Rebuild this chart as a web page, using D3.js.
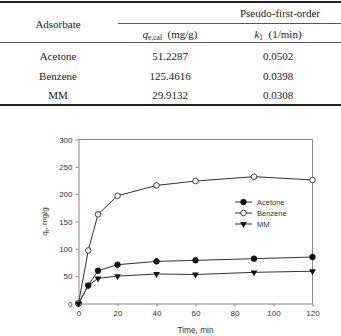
<!DOCTYPE html>
<html>
<head>
<meta charset="utf-8">
<script src="https://cdn.jsdelivr.net/npm/d3@7"></script>
<style>
body { margin: 0; background: #fff; }
svg { display: block; }
</style>
</head>
<body>
<div id="chart"></div>
<script>
// table data
const adsorbates = ["Acetone", "Benzene", "MM"];
const qeCal = ["51.2287", "125.4616", "29.9132"];
const k1 = ["0.0502", "0.0398", "0.0308"];

// kinetics data
const times = [0, 5, 10, 20, 40, 60, 90, 120];
const acetone = [0, 33, 60, 71, 77, 79, 82, 85];
const benzene = [0, 97, 163, 197, 216, 224, 232, 226];
const mm = [0, 33, 46, 50, 54, 53, 57, 59];
const xTicks = [0, 20, 40, 60, 80, 100, 120];
const yTicks = [0, 50, 100, 150, 200, 250, 300];

const w = 341, h = 336;

const svg = d3.select("#chart")
  .append("svg")
  .attr("width", w)
  .attr("height", h);

// ---- table ----
const serif = "'Liberation Serif', 'Times New Roman', serif";
const table = svg.append("g").attr("font-family", serif).attr("font-size", 11).attr("fill", "#222");

table.append("rect").attr("x", 0).attr("y", 1).attr("width", w).attr("height", 2).attr("fill", "#222");
table.append("rect").attr("x", 0).attr("y", 104).attr("width", w).attr("height", 2).attr("fill", "#222");
table.append("line").attr("x1", 118).attr("x2", w).attr("y1", 23.5).attr("y2", 23.5)
  .attr("stroke", "#555").attr("stroke-width", 1);
table.append("line").attr("x1", 0).attr("x2", w).attr("y1", 42.5).attr("y2", 42.5)
  .attr("stroke", "#555").attr("stroke-width", 1);

table.append("text").attr("x", 280).attr("y", 17).attr("text-anchor", "middle").text("Pseudo-first-order");
table.append("text").attr("x", 58).attr("y", 28).attr("text-anchor", "middle").text("Adsorbate");

const qh = table.append("text").attr("x", 170).attr("y", 37.5).attr("text-anchor", "middle");
qh.append("tspan").attr("font-style", "italic").text("q");
qh.append("tspan").attr("font-size", 7.5).attr("dy", 2).text("e,cal");
qh.append("tspan").attr("dy", -2).text("\u2002(mg/g)");

const kh = table.append("text").attr("x", 278).attr("y", 37.5).attr("text-anchor", "middle");
kh.append("tspan").attr("font-style", "italic").text("k");
kh.append("tspan").attr("font-size", 7.5).attr("dy", 2).text("1");
kh.append("tspan").attr("dy", -2).text("\u2002(1/min)");

const rowY = d3.scalePoint().domain(adsorbates).range([60, 99]);
adsorbates.forEach((a, i) => {
  table.append("text").attr("x", 58).attr("y", rowY(a)).attr("text-anchor", "middle").text(a);
  table.append("text").attr("x", 170).attr("y", rowY(a)).attr("text-anchor", "middle").text(qeCal[i]);
  table.append("text").attr("x", 278).attr("y", rowY(a)).attr("text-anchor", "middle").text(k1[i]);
});

// ---- chart ----
const padL = 78.5, padR = 312.5, padT = 139.5, padB = 303.5;
const axisColor = "#888";
const lineColor = "#333";
const sans = "'Liberation Sans', Arial, sans-serif";

const xScale = d3.scaleLinear().domain([0, 120]).range([padL, padR]);
const yScale = d3.scaleLinear().domain([0, 300]).range([padB, padT]);

const chart = svg.append("g").attr("font-family", sans);

const xAxis = chart.append("g")
  .attr("transform", "translate(0," + padB + ")")
  .call(d3.axisBottom(xScale).tickValues(xTicks).tickSize(3).tickSizeOuter(0).tickPadding(4));
const yAxis = chart.append("g")
  .attr("transform", "translate(" + padL + ",0)")
  .call(d3.axisLeft(yScale).tickValues(yTicks).tickSize(3).tickSizeOuter(0).tickPadding(3));

[xAxis, yAxis].forEach(a => {
  a.select(".domain").attr("stroke", axisColor);
  a.selectAll(".tick line").attr("stroke", axisColor);
  a.selectAll(".tick text").attr("fill", "#333").attr("font-size", 8).attr("font-family", sans);
});

// frame top and right
chart.append("line").attr("x1", padL).attr("x2", padR).attr("y1", padT).attr("y2", padT).attr("stroke", axisColor);
chart.append("line").attr("x1", padR).attr("x2", padR).attr("y1", padT).attr("y2", padB).attr("stroke", axisColor);

chart.append("text")
  .attr("x", (padL + padR) / 2).attr("y", 333)
  .attr("text-anchor", "middle").attr("font-size", 8.3).attr("fill", "#333")
  .text("Time, min");

const yl = chart.append("text")
  .attr("transform", "translate(47," + ((padT + padB) / 2) + ") rotate(-90)")
  .attr("text-anchor", "middle").attr("font-size", 8).attr("fill", "#333");
yl.append("tspan").text("q");
yl.append("tspan").attr("font-size", 6).attr("dy", 2).text("t");
yl.append("tspan").attr("dy", -2).text(", mg/g");

const series = [
  { name: "Acetone", values: acetone, marker: "filled" },
  { name: "Benzene", values: benzene, marker: "open" },
  { name: "MM", values: mm, marker: "triangle" }
];

const line = d3.line()
  .x((d, i) => xScale(times[i]))
  .y(d => yScale(d));

const triangle = d3.symbol().type(d3.symbolTriangle).size(20);

function drawMarker(g, type, x, y) {
  if (type === "triangle") {
    g.append("path").attr("d", triangle())
      .attr("transform", "translate(" + x + "," + y + ") rotate(180)")
      .attr("fill", "#111");
  } else {
    g.append("circle").attr("cx", x).attr("cy", y).attr("r", 2.8)
      .attr("fill", type === "filled" ? "#111" : "#fff")
      .attr("stroke", "#111").attr("stroke-width", 0.8);
  }
}

series.forEach(s => {
  chart.append("path")
    .datum(s.values)
    .attr("fill", "none")
    .attr("stroke", lineColor)
    .attr("stroke-width", 1)
    .attr("d", line);
});
series.forEach(s => {
  const g = chart.append("g");
  s.values.forEach((v, i) => drawMarker(g, s.marker, xScale(times[i]), yScale(v)));
});

// legend
const legY = d3.scalePoint().domain(series.map(s => s.name)).range([202, 224]);
series.forEach(s => {
  const g = chart.append("g");
  const y = legY(s.name);
  g.append("line").attr("x1", 235).attr("x2", 252).attr("y1", y).attr("y2", y)
    .attr("stroke", lineColor).attr("stroke-width", 1);
  drawMarker(g, s.marker, 243.5, y);
  g.append("text").attr("x", 257).attr("y", y + 3)
    .attr("font-size", 7.5).attr("fill", "#333").text(s.name);
});
</script>
</body>
</html>
